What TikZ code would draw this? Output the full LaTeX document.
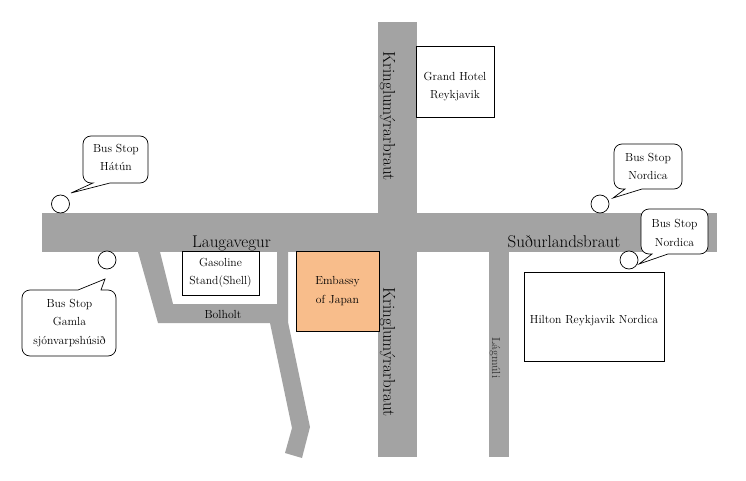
\documentclass[tikz,border=0pt]{standalone}
\usepackage{fontspec}
\newcommand{\lowertext}{\rule{0pt}{17pt}}
\begin{document}
\begin{tikzpicture}[x=1pt, y=-1pt,
road/.style={fill=roadgray, draw=none},
building/.style={draw, line width=1pt, align=center, font=\fontsize{11.7}{18.5}\selectfont, inner sep=0pt},
stopmark/.style={circle, draw, line width=0.7pt, fill=white, minimum size=18pt, inner sep=0pt},
bubble/.style={draw, line width=0.7pt, fill=white, rounded corners=8pt},
bubbletext/.style={align=center, font=\fontsize{11.7}{18.5}\selectfont},
roadname/.style={font=\fontsize{17}{20}\selectfont},
smallname/.style={font=\fontsize{11.7}{14}\selectfont}]
\definecolor{roadgray}{RGB}{163,163,163}
\definecolor{embassy}{RGB}{248,189,139}

\useasboundingbox (0,0) rectangle (746,481);

% roads
\fill[road] (42,213) rectangle (717,252);
\fill[road] (378,22) rectangle (417,457);
\fill[road] (489,252) rectangle (509,457);
\fill[road] (138,252) -- (160,252) -- (173,304) -- (277,304) -- (277,252) -- (288,252) -- (288,322)
  -- (310,427) -- (302,458) -- (285,453) -- (292,428) -- (270,323) -- (158,323) -- cycle;

% buildings
\node[building, minimum width=77pt, minimum height=44pt] (gasoline) at (220.5,273) {Gasoline\\Stand(Shell)};
\node[building, fill=embassy, minimum width=83pt, minimum height=80pt] (embassy) at (337.5,291) {Embassy\\of Japan};
\node[building, minimum width=78pt, minimum height=71pt] (grandhotel) at (455,82) {\lowertext Grand Hotel\\Reykjavik};
\node[building, minimum width=140pt, minimum height=89pt] (hilton) at (594,316.5) {\lowertext Hilton Reykjavik Nordica};

% road names
\node[roadname, anchor=base] (laugavegur) at (231.5,247) {Laugavegur};
\node[roadname, anchor=base] (sudurlands) at (564,247) {Suðurlandsbraut};
\node[roadname, rotate=-90] (kringlaN) at (387.5,116) {Kringlumýrarbraut};
\node[roadname, rotate=-90] (kringlaS) at (387.5,352) {Kringlumýrarbraut};
\node[smallname] (bolholt) at (223,314.5) {Bolholt};
\node[smallname, rotate=-90, text=black!80] (lagmuli) at (495,358) {Lágmúli};

% stops
\node[stopmark] (hatun) at (60.5,204) {};
\node[stopmark] (gamla) at (107,260) {};
\node[stopmark] (nordicaA) at (600,204) {};
\node[stopmark] (nordicaB) at (629,260) {};

% bubbles
\draw[bubble] (83,136) -- (148,136) -- (148,183) [sharp corners] -- (110,183) -- (71,193) -- (93,183) [rounded corners=8pt] -- (83,183) -- cycle;
\node[bubbletext] (hatuntext) at (116,157.5) {Bus Stop\\Hátún};
\draw[bubble] (22,290) [sharp corners] -- (78,290) -- (105,279) -- (101,290) [rounded corners=8pt] -- (116,290) -- (116,356) -- (22,356) -- cycle;
\node[bubbletext] (gamlatext) at (69.5,323) {Bus Stop\\Gamla\\sjónvarpshúsið};
\draw[bubble] (614,144) -- (682,144) -- (682,189) [sharp corners] -- (642,189) -- (613,198) -- (625,189) [rounded corners=8pt] -- (614,189) -- cycle;
\node[bubbletext] (nordicaAtext) at (648,166.5) {Bus Stop\\Nordica};
\draw[bubble] (641,209) -- (708,209) -- (708,254) [sharp corners] -- (668,254) -- (639,264) -- (652,254) [rounded corners=8pt] -- (641,254) -- cycle;
\node[bubbletext] (nordicaBtext) at (674.5,233) {Bus Stop\\Nordica};

\end{tikzpicture}
\end{document}
